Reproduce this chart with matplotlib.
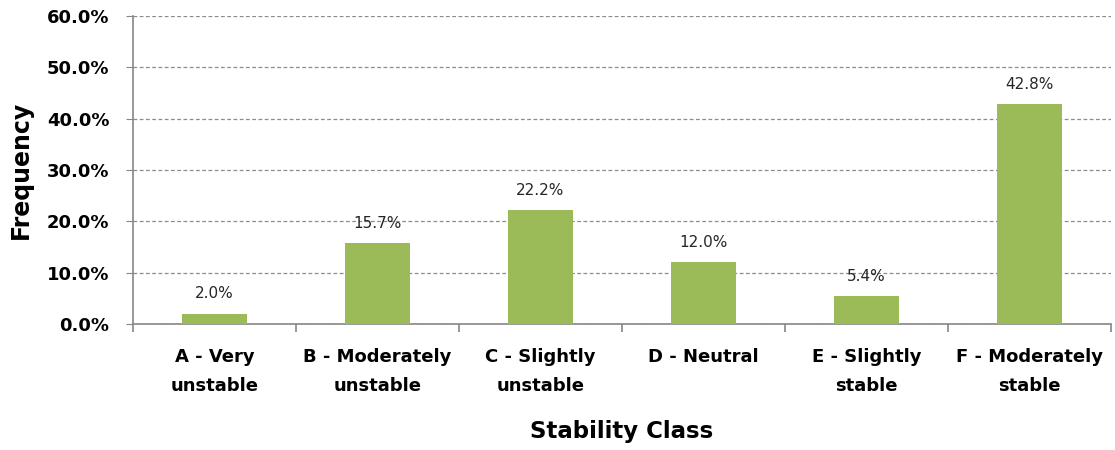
import numpy as np
import matplotlib
matplotlib.use("Agg")
import matplotlib.pyplot as plt
from matplotlib.ticker import FuncFormatter, FixedLocator

# Datos del gráfico
categorias = ["A - Very\nunstable", "B - Moderately\nunstable", "C - Slightly\nunstable",
              "D - Neutral", "E - Slightly\nstable", "F - Moderately\nstable"]
frecuencia = [2.0, 15.7, 22.2, 12.0, 5.4, 42.8]
y_ticks = [0, 10, 20, 30, 40, 50, 60]

plt.rcParams['font.family'] = ['DejaVu Sans']

fig = plt.figure(figsize=(11.15, 4.5), dpi=100)
ax = fig.add_axes([0.1193, 0.28, 0.8771, 0.6844])

x = np.arange(len(categorias))
ax.bar(x, frecuencia, width=0.4, color='#9BBB59', zorder=3)

for xi, v in zip(x, frecuencia):
    ax.text(xi, v + 2.4, f"{v:.1f}%", ha='center', va='bottom', fontsize=11, color='#262626')

ax.set_xlim(-0.5, len(categorias) - 0.5)
ax.set_ylim(0, 60)
ax.set_yticks(y_ticks)
ax.yaxis.set_major_formatter(FuncFormatter(lambda v, p: f"{v:.1f}%"))
ax.set_xticks(x)
ax.set_xticklabels(categorias, fontsize=13, fontweight='bold', linespacing=1.8)
ax.xaxis.set_minor_locator(FixedLocator(np.arange(-0.5, len(categorias), 1.0)))
ax.tick_params(axis='x', which='major', length=0, pad=17)
ax.tick_params(axis='x', which='minor', length=6, color='#868686', width=1.2)
ax.tick_params(axis='y', length=5, color='#868686', labelsize=13, pad=12)
for lab in ax.get_yticklabels():
    lab.set_fontweight('bold')

ax.grid(axis='y', linestyle=(0, (3, 2)), color='#8c8c8c', linewidth=0.9, zorder=0)
for s in ['top', 'right']:
    ax.spines[s].set_visible(False)
for s in ['left', 'bottom']:
    ax.spines[s].set_color('#868686')
    ax.spines[s].set_linewidth(1.2)

ax.set_xlabel('Stability Class', fontsize=16.5, fontweight='bold', labelpad=18)
ax.set_ylabel('Frequency', fontsize=17, fontweight='bold', labelpad=10)

fig.savefig('out.png', dpi=100)
